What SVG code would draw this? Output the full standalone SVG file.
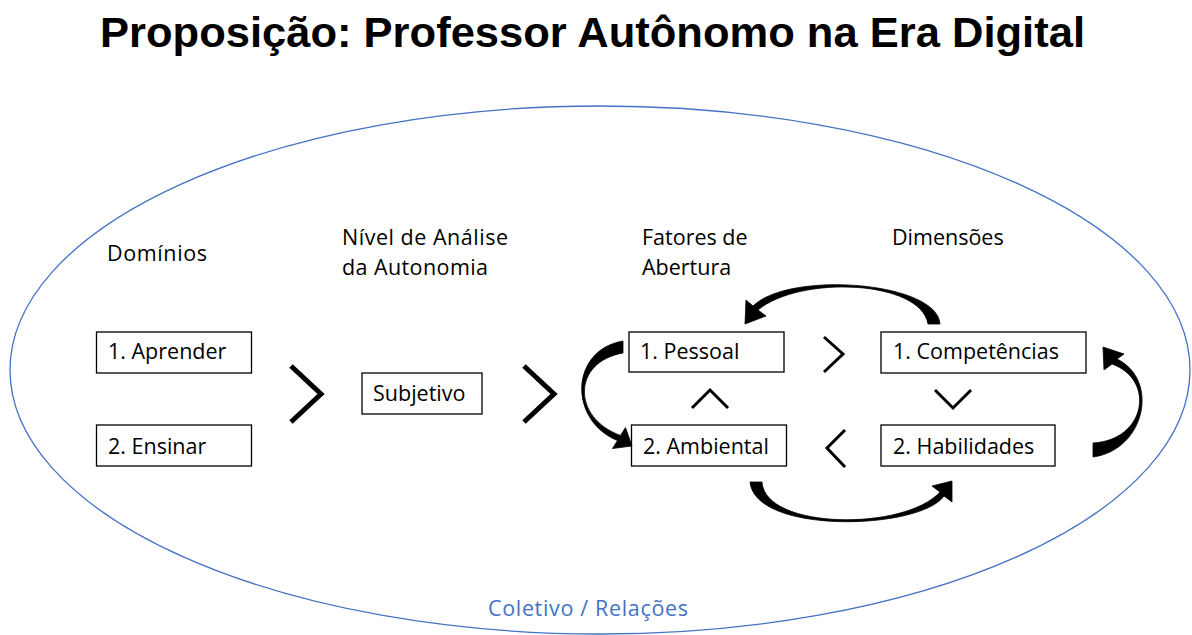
<svg xmlns="http://www.w3.org/2000/svg" width="1192" height="635" viewBox="0 0 1192 635">
<style>
.bg{fill:#ffffff}
.title{font-family:"Liberation Sans",Arial,sans-serif;font-weight:bold;font-size:43px;fill:#000}
.lbl{font-family:"Open Sans","Liberation Sans",sans-serif;font-size:21.5px;fill:#000}
.blue{fill:#4472C4}
.box{fill:#fff;stroke:#000;stroke-width:1.3}
.chev{fill:none;stroke:#000;stroke-width:5;stroke-linejoin:miter;stroke-linecap:butt}
.chev-s{fill:none;stroke:#000;stroke-width:3;stroke-linejoin:miter;stroke-linecap:butt}
.curve{fill:#000;stroke:#000;stroke-width:0.8;stroke-linejoin:round}
</style>
<rect class="bg" x="0" y="0" width="1192" height="635"/>
<text class="title" x="100" y="47" textLength="985" lengthAdjust="spacingAndGlyphs">Proposição: Professor Autônomo na Era Digital</text>
<ellipse cx="600" cy="370" rx="590" ry="264" fill="none" stroke="#4472C4" stroke-width="1.3"/>
<g id="headers">
<text class="lbl" x="107" y="261" textLength="100">Domínios</text>
<text class="lbl" x="342" y="245" textLength="166">Nível de Análise</text>
<text class="lbl" x="342" y="275" textLength="146">da Autonomia</text>
<text class="lbl" x="642" y="245">Fatores de</text>
<text class="lbl" x="642" y="275">Abertura</text>
<text class="lbl" x="892" y="245">Dimensões</text>
</g>
<g id="n-aprender"><rect class="box" x="96.5" y="332" width="155" height="41"/><text class="lbl" x="108" y="359">1. Aprender</text></g>
<g id="n-ensinar"><rect class="box" x="96.5" y="425" width="155" height="41"/><text class="lbl" x="108" y="454">2. Ensinar</text></g>
<g id="n-subjetivo"><rect class="box" x="362" y="373" width="120" height="41"/><text class="lbl" x="373" y="401">Subjetivo</text></g>
<g id="n-pessoal"><rect class="box" x="629" y="332" width="155" height="40"/><text class="lbl" x="640" y="359">1. Pessoal</text></g>
<g id="n-ambiental"><rect class="box" x="631.5" y="425" width="155" height="41"/><text class="lbl" x="643" y="454">2. Ambiental</text></g>
<g id="n-competencias"><rect class="box" x="881" y="332" width="205" height="41"/><text class="lbl" x="893" y="359">1. Competências</text></g>
<g id="n-habilidades"><rect class="box" x="881" y="425" width="174" height="41"/><text class="lbl" x="893" y="454">2. Habilidades</text></g>
<g id="n-coletivo"><text class="lbl blue" x="488" y="616" textLength="200">Coletivo / Relações</text></g>
<g id="connectors">
<polyline class="chev" points="291,366 321,394 291,422"/>
<polyline class="chev" points="524,366 554,394 524,422"/>
<polyline class="chev-s" points="824,337 843,354 824,372"/>
<polyline class="chev-s" points="845,430 827,448 845,467"/>
<polyline class="chev-s" points="935,390 953,408 971,390"/>
<polyline class="chev-s" points="692,408 710,390 728,408"/>
<path class="curve" d="M940 324 C938 282 790 270 753 306 L746 300 L745 324 L766 316 L758 310 C800 275 921 280 928 324 Z"/>
<path class="curve" d="M1093 457 C1145 450 1160 380 1117 359 L1124 354 L1103 347 L1104 370 L1112 364 C1156 380 1146 440 1093 443 Z"/>
<path class="curve" d="M750 482 C755 535 920 530 944 496 L952 502 L952 481 L932 486 L940 492 C905 531 765 530 762 482 Z"/>
<path class="curve" d="M623 341 C570 350 568 420 617.5 440.6 L612.5 448.5 L632 446 L625.5 427.5 L620.5 435.4 C572 418 572 362 623 353 Z"/>
</g>
</svg>
